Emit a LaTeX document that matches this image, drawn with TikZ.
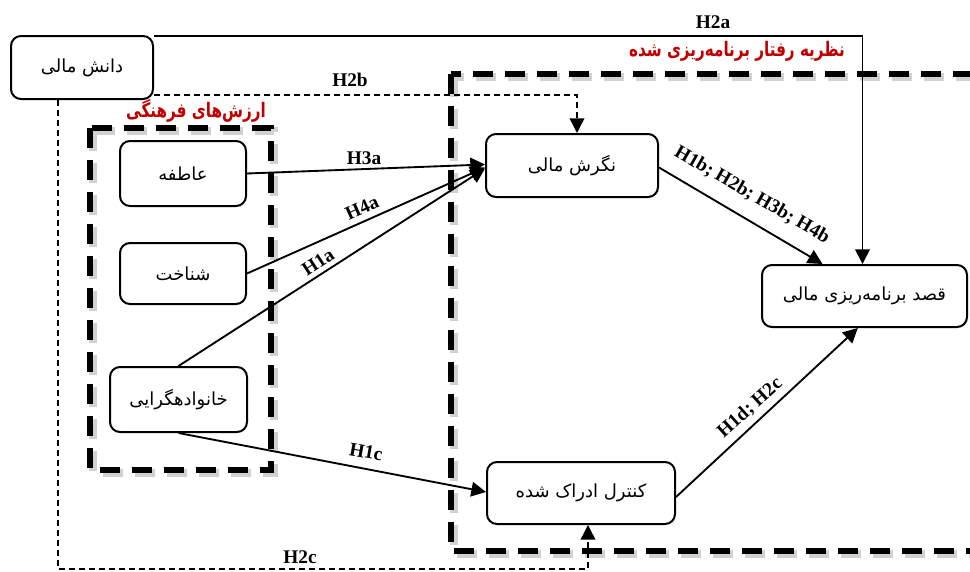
\documentclass[tikz,border=0pt]{standalone}
\usepackage{fontspec}
\setmainfont{Liberation Serif}
\newfontfamily\fa[Script=Arabic]{DejaVu Sans}
\TeXXeTstate=1
\usetikzlibrary{arrows.meta,calc}
\definecolor{titlered}{HTML}{C00000}
\begin{document}
\begin{tikzpicture}[x=0.75pt,y=-0.75pt,
 box/.style={draw, line width=1.5pt, rounded corners=7.5pt, inner sep=0pt, font=\fa\fontsize{13.5}{15}\selectfont},
 hyp/.style={font=\bfseries\fontsize{14.5}{16}\selectfont, inner sep=1pt},
 ttl/.style={font=\fa\bfseries\fontsize{12}{14}\selectfont, text=titlered, inner sep=1pt, xscale=0.95, yscale=1.25, transform shape},
 con/.style={line width=1.4pt, -{Triangle[length=11pt,width=11pt]}},
 thindash/.style={line width=1.1pt, dash pattern=on 4.5pt off 3pt},
 frame/.style={line width=4.8pt, dash pattern=on 15pt off 9pt},
 frameshadow/.style={line width=5.5pt, dash pattern=on 15pt off 9pt, draw=black!18}
]
\useasboundingbox (0,0) rectangle (970,571);
% frames
\draw[frameshadow] (93,131) rectangle (274,473);
\draw[frame] (90,128) rectangle (271,470);
\draw[frameshadow] (454,77) rectangle (990,554);
\draw[frame] (451,74) rectangle (987,551);
% titles
\node[ttl] (t1) at (196,111) {\beginR ارزش‌های فرهنگی\endR};
\node[ttl] (t2) at (737,51) {\beginR نظریه رفتار برنامه‌ریزی شده\endR};
% boxes
\node[box, minimum width=142*0.75pt, minimum height=63*0.75pt, fill=white] (dm) at (82,67.5) {\beginR دانش مالی\endR};
\node[box, minimum width=126*0.75pt, minimum height=65*0.75pt, fill=white] (atf) at (183,173.5) {\beginR عاطفه\endR};
\node[box, minimum width=126*0.75pt, minimum height=61*0.75pt, fill=white] (shn) at (183,273.5) {\beginR شناخت\endR};
\node[box, minimum width=137*0.75pt, minimum height=65*0.75pt, fill=white] (fam) at (178.5,399.5) {\beginR خانوادهگرایی\endR};
\node[box, minimum width=172*0.75pt, minimum height=63*0.75pt, fill=white] (att) at (572,165.5) {\beginR نگرش مالی\endR};
\node[box, minimum width=205*0.75pt, minimum height=62*0.75pt, fill=white] (int) at (864.5,296) {\beginR قصد برنامه‌ریزی مالی\endR};
\node[box, minimum width=188*0.75pt, minimum height=62*0.75pt, fill=white] (pbc) at (581,493) {\beginR کنترل ادراک شده\endR};
% connectors
\draw[con] ([yshift=-0.75pt]dm.north east) -| ([xshift=-1.5pt]int.north);
\draw[thindash, -{Triangle[length=11pt,width=11pt]}] ([yshift=3.75pt]dm.south east) -| ([xshift=3.75pt]att.north);
\coordinate (h2ccorner) at (58,569);
\draw[thindash, -{Triangle[length=11pt,width=11pt]}] ([xshift=-18pt]dm.south) -- (h2ccorner) -| ([xshift=5.25pt]pbc.south);
\draw[con] (atf.east) -- ([yshift=0.75pt]att.west);
\draw[con] (shn.east) -- ([yshift=-1.5pt]att.west);
\draw[con] (fam.north) -- ([yshift=-2.25pt]att.west);
\draw[con] (fam.south) -- ([yshift=0.75pt]pbc.west);
\draw[con] ([yshift=-1.5pt]att.east) -- ([xshift=-31.5pt]int.north);
\draw[con] ([yshift=-3pt]pbc.east) -- ([xshift=-5pt]int.south);
% labels
\node[hyp] (l2a) at (713,22) {H2a};
\node[hyp] (l2b) at (350,80) {H2b};
\node[hyp] (l2c) at (300,557) {H2c};
\node[hyp] (l3a) at (364,158) {H3a};
\node[hyp, rotate=24] (l4a) at (362,208) {H4a};
\node[hyp, rotate=33] (l1a) at (318,262) {H1a};
\node[hyp, rotate=-10] (l1c) at (366,452) {H1c};
\node[hyp, rotate=-30] (l1b) at (752,195) {H1b; H2b; H3b; H4b};
\node[hyp, rotate=42] (l1d) at (750,408) {H1d; H2c};
\end{tikzpicture}
\end{document}
